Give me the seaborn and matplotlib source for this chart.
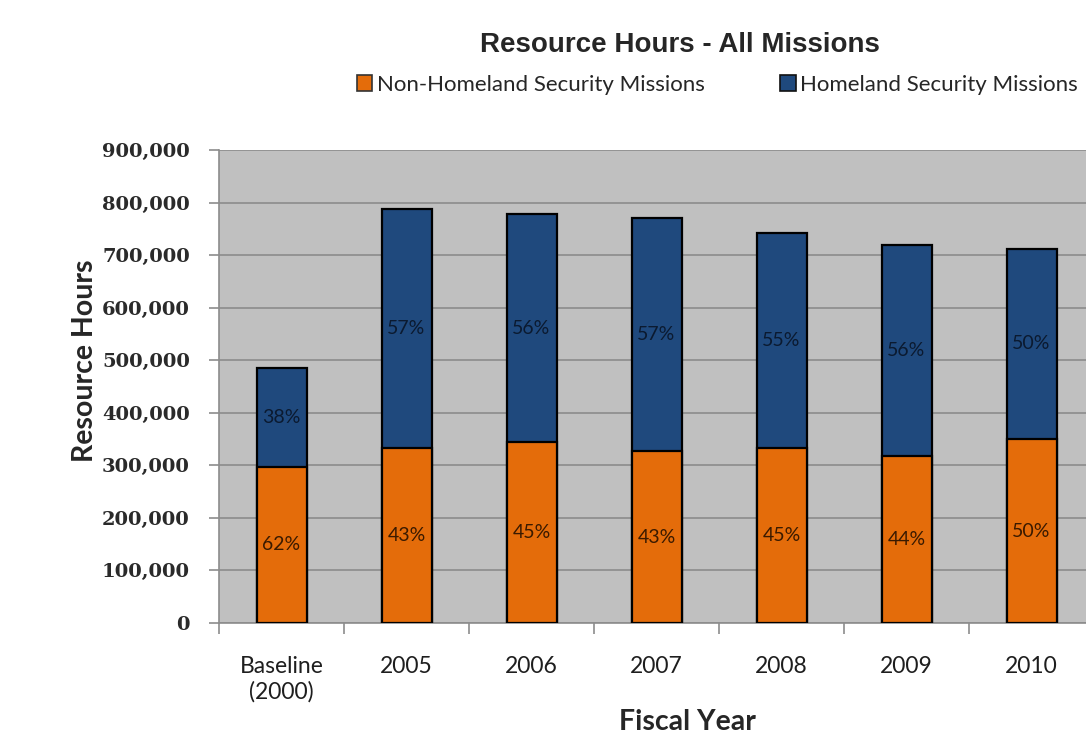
import matplotlib
matplotlib.use("Agg")
import matplotlib.pyplot as plt
import seaborn as sns
import pandas as pd
from matplotlib.patches import Patch
from matplotlib.ticker import FuncFormatter, MultipleLocator

categories = ["Baseline\n(2000)", "2005", "2006", "2007", "2008", "2009", "2010"]
non_hs_hours = [297000, 333000, 344000, 327000, 333000, 318000, 350000]
total_hours = [485000, 788000, 778000, 771000, 742000, 719000, 712000]
non_hs_pct = ["62%", "43%", "45%", "43%", "45%", "44%", "50%"]
hs_pct = ["38%", "57%", "56%", "57%", "55%", "56%", "50%"]

ORANGE = "#E46C0A"
BLUE = "#1F497D"
NARROW = ["Lato", "DejaVu Sans"]

sns.set_theme(style="white")
plt.rcParams["font.family"] = ["DejaVu Sans"]

df = pd.DataFrame({"cat": categories, "non_hs": non_hs_hours, "total": total_hours})

fig = plt.figure(figsize=(10.86, 7.41), dpi=100)
ax = fig.add_axes([219/1086, 1 - 623/741, (1094 - 219)/1086, (623 - 150)/741])
ax.set_facecolor("#C0C0C0")

sns.barplot(data=df, x="cat", y="total", color=BLUE, width=0.4, edgecolor="black",
            linewidth=1.6, saturation=1, ax=ax, zorder=3)
sns.barplot(data=df, x="cat", y="non_hs", color=ORANGE, width=0.4, edgecolor="black",
            linewidth=1.6, saturation=1, ax=ax, zorder=4)

ax.set_xlim(-0.5, 6.5)
ax.set_ylim(0, 900000)
ax.yaxis.set_major_locator(MultipleLocator(100000))
ax.yaxis.set_major_formatter(FuncFormatter(lambda v, p: f"{int(v):,}"))
ax.grid(axis="y", color="#8C8C8C", linewidth=1.2, zorder=0)
ax.set_axisbelow(True)

for s in ["top", "right"]:
    ax.spines[s].set_visible(False)
ax.spines["left"].set_color("#8C8C8C")
ax.spines["bottom"].set_color("#8C8C8C")
ax.spines["left"].set_linewidth(1.2)
ax.spines["bottom"].set_linewidth(1.2)

ax.set_xticks([i - 0.5 for i in range(8)], minor=True)
ax.set_xticks(range(len(categories)))
ax.set_xticklabels(categories, fontsize=16.5, family=NARROW, color="#1e1e1e")
ax.tick_params(axis="x", which="major", length=0, pad=24)
ax.tick_params(axis="x", which="minor", length=8, color="#8C8C8C", width=1.2, bottom=True)
ax.tick_params(axis="y", length=7, color="#8C8C8C", width=1.2, left=True, pad=14)
for t in ax.get_yticklabels():
    t.set_color("#2a2a2a")
    t.set_family(["DejaVu Serif"])
    t.set_fontweight("bold")
    t.set_fontsize(14)

ax.set_xlabel("Fiscal Year", fontsize=20.5, fontweight="bold", family=NARROW)
ax.set_ylabel("Resource Hours", fontsize=20.5, fontweight="bold", family=NARROW)
ax.xaxis.set_label_coords(0.535, -0.209)
ax.yaxis.set_label_coords(-0.153, 0.554)
ax.xaxis.label.set_va("center")
ax.yaxis.label.set_va("center")

for i in range(len(categories)):
    ax.text(i, non_hs_hours[i] / 2, non_hs_pct[i], ha="center", va="center",
            fontsize=14, family=NARROW, color="#3a1a00", zorder=6)
    ax.text(i, (non_hs_hours[i] + total_hours[i]) / 2, hs_pct[i], ha="center", va="center",
            fontsize=14, family=NARROW, color="#0b1a30", zorder=6)

fig.text(680/1086, 1 - 45/741, "Resource Hours - All Missions", ha="center", va="center",
         fontsize=20, fontweight="bold", family=["Liberation Sans", "DejaVu Sans"])

handles = [Patch(facecolor=ORANGE, edgecolor="#333333", linewidth=1.2, label="Non-Homeland Security Missions"),
           Patch(facecolor=BLUE, edgecolor="#111111", linewidth=1.2, label="Homeland Security Missions")]
fig.legend(handles=handles, loc="center left", bbox_to_anchor=(348/1086, 1 - 85/741), ncol=2,
           frameon=False, prop={"family": NARROW, "size": 16}, handlelength=0.7, handleheight=0.7,
           handletextpad=0.2, columnspacing=3.4, borderaxespad=0)

fig.savefig("out.png", dpi=100, facecolor="white")
